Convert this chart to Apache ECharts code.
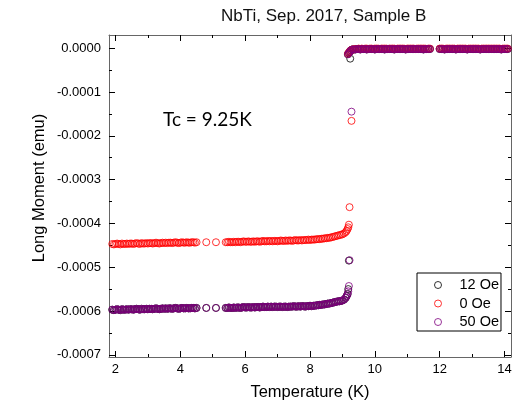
<!DOCTYPE html>
<html>
<head>
<meta charset="utf-8">
<script src="https://cdn.jsdelivr.net/npm/echarts@6/dist/echarts.min.js"></script>
<style>html,body{margin:0;padding:0;background:#fff;}#chart{width:529px;height:407px;}</style>
</head>
<body>
<div id="chart"></div>
<script>
// ---- data ----
const titleText = 'NbTi, Sep. 2017, Sample B';
const xAxisTitle = 'Temperature (K)';
const yAxisTitle = 'Long Moment (emu)';
const annotation = 'Tc = 9.25K';
const seriesNames = ['12 Oe', '0 Oe', '50 Oe'];
const xMajorTicks = [2, 4, 6, 8, 10, 12, 14];
const xMinorTicks = [3, 5, 7, 9, 11, 13];
const yMajorTicks = [0, -0.0001, -0.0002, -0.0003, -0.0004, -0.0005, -0.0006, -0.0007];
const yMinorTicks = [-0.00005, -0.00015, -0.00025, -0.00035, -0.00045, -0.00055, -0.00065];

// temperature (K), shared by the three series
const temps = [
  1.9,1.95,2,2.05,2.1,2.15,2.2,2.25,2.3,2.35, 2.4,2.45,2.5,2.55,2.6,2.65,2.7,2.75,2.8,2.85,
  2.9,2.95,3,3.05,3.1,3.15,3.2,3.25,3.3,3.35, 3.4,3.45,3.5,3.55,3.6,3.65,3.7,3.75,3.8,3.85,
  3.9,3.95,4,4.05,4.1,4.15,4.2,4.25,4.3,4.35, 4.4,4.45,4.5,
  4.8,5.1,
  5.4,5.45,5.5,5.55,5.6,5.65,5.7,5.75,5.8,5.85, 5.9,5.95,6,6.05,6.1,6.15,6.2,6.25,6.3,6.35,
  6.4,6.45,6.5,6.55,6.6,6.65,6.7,6.75,6.8,6.85, 6.9,6.95,7,7.05,7.1,7.15,7.2,7.25,7.3,7.35,
  7.4,7.45,7.5,7.55,7.6,7.65,7.7,7.75,7.8,7.85, 7.9,7.95,8,8.05,8.1,8.15,8.2,8.25,8.3,8.35,
  8.4,8.45,8.5,8.55,8.6,8.65,8.7,8.75,8.8,8.85, 8.9,8.95,9,
  9.05,9.1,9.13,9.16,9.18,9.2,9.22,9.24,9.28,9.17,9.2,9.23,9.26,9.3,
  9.35,9.4,9.45,9.5,9.55,9.6,9.65,9.7,9.75,9.8, 9.85,9.9,9.95,10,10.05,10.1,10.15,10.2,10.25,10.3,
  10.35,10.4,10.45,10.5,10.55,10.6,10.65,10.7,10.75,10.8, 10.85,10.9,10.95,11,11.05,11.1,11.15,11.2,11.25,11.3,
  11.35,11.4,11.45,11.5,11.55,11.6,11.65,11.7,
  12,12.05,12.1,12.15,12.2,12.25,12.3,12.35,12.4,12.45, 12.5,12.55,12.6,12.65,12.7,12.75,12.8,12.85,12.9,12.95,
  13,13.05,13.1,13.15,13.2,13.25,13.3,13.35,13.4,13.45, 13.5,13.55,13.6,13.65,13.7,13.75,13.8,13.85,13.9,13.95,
  14,14.05,14.1
];

// long moment (emu), 12 Oe
const m12 = [
  -5.97e-4,-5.98e-4,-5.97e-4,-5.96e-4,-5.97e-4,-5.98e-4,-5.96e-4,-5.97e-4,-5.97e-4,-5.96e-4,
  -5.97e-4,-5.96e-4,-5.96e-4,-5.97e-4,-5.96e-4,-5.95e-4,-5.96e-4,-5.97e-4,-5.95e-4,-5.96e-4,
  -5.96e-4,-5.95e-4,-5.96e-4,-5.95e-4,-5.95e-4,-5.96e-4,-5.95e-4,-5.94e-4,-5.95e-4,-5.96e-4,
  -5.95e-4,-5.94e-4,-5.95e-4,-5.94e-4,-5.95e-4,-5.94e-4,-5.94e-4,-5.95e-4,-5.94e-4,-5.93e-4,
  -5.94e-4,-5.95e-4,-5.94e-4,-5.93e-4,-5.94e-4,-5.94e-4,-5.93e-4,-5.94e-4,-5.94e-4,-5.93e-4,
  -5.93e-4,-5.94e-4,-5.93e-4,
  -5.93e-4,-5.93e-4,
  -5.93e-4,-5.93e-4,-5.92e-4,-5.93e-4,-5.93e-4,-5.92e-4,-5.93e-4,-5.92e-4,-5.92e-4,-5.93e-4,
  -5.92e-4,-5.91e-4,-5.92e-4,-5.92e-4,-5.91e-4,-5.92e-4,-5.92e-4,-5.91e-4,-5.92e-4,-5.91e-4,
  -5.91e-4,-5.92e-4,-5.91e-4,-5.90e-4,-5.91e-4,-5.91e-4,-5.90e-4,-5.91e-4,-5.90e-4,-5.91e-4,
  -5.90e-4,-5.90e-4,-5.91e-4,-5.90e-4,-5.90e-4,-5.91e-4,-5.90e-4,-5.90e-4,-5.91e-4,-5.90e-4,
  -5.90e-4,-5.90e-4,-5.89e-4,-5.90e-4,-5.90e-4,-5.89e-4,-5.90e-4,-5.89e-4,-5.89e-4,-5.90e-4,
  -5.89e-4,-5.89e-4,-5.88e-4,-5.89e-4,-5.88e-4,-5.88e-4,-5.87e-4,-5.87e-4,-5.86e-4,-5.86e-4,
  -5.85e-4,-5.85e-4,-5.84e-4,-5.83e-4,-5.83e-4,-5.82e-4,-5.81e-4,-5.80e-4,-5.79e-4,-5.78e-4,
  -5.78e-4,-5.77e-4,-5.76e-4,
  -5.74e-4,-5.70e-4,-5.66e-4,-5.61e-4,-5.50e-4,-4.85e-4,null,-2.4e-5,null,-1.4e-5,-1.1e-5,-8e-6,-5e-6,-3e-6,
  -3e-6,-3e-6,-2e-6,-2e-6,-3e-6,-2e-6,-2e-6,-2e-6,-3e-6,-2e-6,
  -2e-6,-2e-6,-2e-6,-3e-6,-2e-6,-2e-6,-2e-6,-2e-6,-2e-6,-3e-6,
  -2e-6,-2e-6,-2e-6,-2e-6,-2e-6,-3e-6,-2e-6,-2e-6,-2e-6,-2e-6,
  -2e-6,-2e-6,-3e-6,-2e-6,-2e-6,-2e-6,-2e-6,-2e-6,-2e-6,-2e-6,
  -2e-6,-2e-6,-2e-6,-3e-6,-2e-6,-2e-6,-2e-6,-2e-6,
  -2e-6,-2e-6,-2e-6,-3e-6,-2e-6,-2e-6,-2e-6,-2e-6,-2e-6,-2e-6,
  -3e-6,-2e-6,-2e-6,-2e-6,-2e-6,-2e-6,-2e-6,-3e-6,-2e-6,-2e-6,
  -2e-6,-2e-6,-2e-6,-2e-6,-2e-6,-3e-6,-2e-6,-2e-6,-2e-6,-2e-6,
  -2e-6,-2e-6,-2e-6,-2e-6,-2e-6,-2e-6,-2e-6,-2e-6,-3e-6,-2e-6,
  -2e-6,-2e-6,-2e-6
];

// long moment (emu), 0 Oe
const m0 = [
  -4.47e-4,-4.48e-4,-4.47e-4,-4.46e-4,-4.47e-4,-4.48e-4,-4.46e-4,-4.47e-4,-4.47e-4,-4.46e-4,
  -4.47e-4,-4.46e-4,-4.46e-4,-4.47e-4,-4.46e-4,-4.45e-4,-4.46e-4,-4.47e-4,-4.45e-4,-4.46e-4,
  -4.46e-4,-4.45e-4,-4.46e-4,-4.45e-4,-4.45e-4,-4.46e-4,-4.45e-4,-4.44e-4,-4.45e-4,-4.46e-4,
  -4.45e-4,-4.44e-4,-4.45e-4,-4.44e-4,-4.45e-4,-4.44e-4,-4.44e-4,-4.45e-4,-4.44e-4,-4.43e-4,
  -4.44e-4,-4.45e-4,-4.44e-4,-4.43e-4,-4.44e-4,-4.44e-4,-4.43e-4,-4.44e-4,-4.44e-4,-4.43e-4,
  -4.43e-4,-4.44e-4,-4.43e-4,
  -4.43e-4,-4.43e-4,
  -4.43e-4,-4.43e-4,-4.42e-4,-4.43e-4,-4.43e-4,-4.42e-4,-4.43e-4,-4.42e-4,-4.42e-4,-4.43e-4,
  -4.42e-4,-4.41e-4,-4.42e-4,-4.42e-4,-4.41e-4,-4.42e-4,-4.42e-4,-4.41e-4,-4.42e-4,-4.41e-4,
  -4.41e-4,-4.42e-4,-4.41e-4,-4.40e-4,-4.41e-4,-4.41e-4,-4.40e-4,-4.41e-4,-4.40e-4,-4.41e-4,
  -4.40e-4,-4.40e-4,-4.41e-4,-4.40e-4,-4.39e-4,-4.40e-4,-4.40e-4,-4.39e-4,-4.40e-4,-4.39e-4,
  -4.39e-4,-4.40e-4,-4.39e-4,-4.38e-4,-4.39e-4,-4.39e-4,-4.38e-4,-4.39e-4,-4.38e-4,-4.38e-4,
  -4.38e-4,-4.37e-4,-4.38e-4,-4.37e-4,-4.37e-4,-4.37e-4,-4.36e-4,-4.36e-4,-4.36e-4,-4.35e-4,
  -4.35e-4,-4.34e-4,-4.34e-4,-4.33e-4,-4.33e-4,-4.32e-4,-4.31e-4,-4.30e-4,-4.29e-4,-4.28e-4,
  -4.27e-4,-4.26e-4,-4.25e-4,
  -4.23e-4,-4.20e-4,-4.17e-4,-4.13e-4,-4.09e-4,-4.03e-4,-3.63e-4,null,-1.66e-4,-1.3e-5,-1.0e-5,-7e-6,-5e-6,-3e-6,
  -3e-6,-2e-6,-2e-6,-1e-6,-2e-6,-1e-6,-2e-6,-1e-6,-1e-6,-2e-6,
  -1e-6,-1e-6,-2e-6,-1e-6,-1e-6,-1e-6,-2e-6,-1e-6,-1e-6,-1e-6,
  -1e-6,-2e-6,-1e-6,-1e-6,-1e-6,-1e-6,-2e-6,-1e-6,-1e-6,-1e-6,
  -1e-6,-1e-6,-2e-6,-1e-6,-1e-6,-1e-6,-1e-6,-1e-6,-2e-6,-1e-6,
  -1e-6,-1e-6,-1e-6,-1e-6,-1e-6,-2e-6,-1e-6,-1e-6,
  -1e-6,-1e-6,-1e-6,-2e-6,-1e-6,-1e-6,-1e-6,-1e-6,-1e-6,-1e-6,
  -2e-6,-1e-6,-1e-6,-1e-6,-1e-6,-1e-6,-1e-6,-2e-6,-1e-6,-1e-6,
  -1e-6,-1e-6,-1e-6,-1e-6,-1e-6,-2e-6,-1e-6,-1e-6,-1e-6,-1e-6,
  -1e-6,-1e-6,-1e-6,-1e-6,-1e-6,-1e-6,-1e-6,-1e-6,-2e-6,-1e-6,
  -1e-6,-1e-6,-1e-6
];

// long moment (emu), 50 Oe
const m50 = [
  -5.97e-4,-5.98e-4,-5.97e-4,-5.96e-4,-5.97e-4,-5.98e-4,-5.96e-4,-5.97e-4,-5.97e-4,-5.96e-4,
  -5.97e-4,-5.96e-4,-5.96e-4,-5.97e-4,-5.96e-4,-5.95e-4,-5.96e-4,-5.97e-4,-5.95e-4,-5.96e-4,
  -5.96e-4,-5.95e-4,-5.96e-4,-5.95e-4,-5.95e-4,-5.96e-4,-5.95e-4,-5.94e-4,-5.95e-4,-5.96e-4,
  -5.95e-4,-5.94e-4,-5.95e-4,-5.94e-4,-5.95e-4,-5.94e-4,-5.94e-4,-5.95e-4,-5.94e-4,-5.93e-4,
  -5.94e-4,-5.95e-4,-5.94e-4,-5.93e-4,-5.94e-4,-5.94e-4,-5.93e-4,-5.94e-4,-5.94e-4,-5.93e-4,
  -5.93e-4,-5.94e-4,-5.93e-4,
  -5.93e-4,-5.93e-4,
  -5.93e-4,-5.93e-4,-5.92e-4,-5.93e-4,-5.93e-4,-5.92e-4,-5.93e-4,-5.92e-4,-5.92e-4,-5.93e-4,
  -5.92e-4,-5.91e-4,-5.92e-4,-5.92e-4,-5.91e-4,-5.92e-4,-5.92e-4,-5.91e-4,-5.92e-4,-5.91e-4,
  -5.91e-4,-5.92e-4,-5.91e-4,-5.90e-4,-5.91e-4,-5.91e-4,-5.90e-4,-5.91e-4,-5.90e-4,-5.91e-4,
  -5.90e-4,-5.90e-4,-5.91e-4,-5.90e-4,-5.90e-4,-5.91e-4,-5.90e-4,-5.90e-4,-5.91e-4,-5.90e-4,
  -5.90e-4,-5.90e-4,-5.89e-4,-5.90e-4,-5.90e-4,-5.89e-4,-5.90e-4,-5.89e-4,-5.89e-4,-5.90e-4,
  -5.89e-4,-5.89e-4,-5.88e-4,-5.89e-4,-5.88e-4,-5.88e-4,-5.87e-4,-5.87e-4,-5.86e-4,-5.86e-4,
  -5.85e-4,-5.85e-4,-5.84e-4,-5.83e-4,-5.83e-4,-5.82e-4,-5.81e-4,-5.80e-4,-5.79e-4,-5.78e-4,
  -5.78e-4,-5.77e-4,-5.76e-4,
  -5.74e-4,-5.70e-4,-5.66e-4,-5.62e-4,-5.55e-4,-5.43e-4,-4.84e-4,null,-1.45e-4,-1.4e-5,-1.1e-5,-8e-6,-5e-6,-3e-6,
  -3e-6,-3e-6,-2e-6,-2e-6,-3e-6,-2e-6,-2e-6,-2e-6,-3e-6,-2e-6,
  -2e-6,-2e-6,-2e-6,-3e-6,-2e-6,-2e-6,-2e-6,-2e-6,-2e-6,-3e-6,
  -2e-6,-2e-6,-2e-6,-2e-6,-2e-6,-3e-6,-2e-6,-2e-6,-2e-6,-2e-6,
  -2e-6,-2e-6,-3e-6,-2e-6,-2e-6,-2e-6,-2e-6,-2e-6,-2e-6,-2e-6,
  -2e-6,-2e-6,-2e-6,-3e-6,-2e-6,-2e-6,-2e-6,-2e-6,
  -2e-6,-2e-6,-2e-6,-3e-6,-2e-6,-2e-6,-2e-6,-2e-6,-2e-6,-2e-6,
  -3e-6,-2e-6,-2e-6,-2e-6,-2e-6,-2e-6,-2e-6,-3e-6,-2e-6,-2e-6,
  -2e-6,-2e-6,-2e-6,-2e-6,-2e-6,-3e-6,-2e-6,-2e-6,-2e-6,-2e-6,
  -2e-6,-2e-6,-2e-6,-2e-6,-2e-6,-2e-6,-2e-6,-2e-6,-3e-6,-2e-6,
  -2e-6,-2e-6,-2e-6
];

const seriesColors = ['#000000', '#ff0000', '#800080'];

// ---- chart ----
const FONT = '"Liberation Sans", Arial, sans-serif';
const X_MIN = 1.8, X_MAX = 14.2;
const Y_MIN = -0.000705, Y_MAX = 0.00003;

function points(vals) {
  const out = [];
  temps.forEach((t, i) => { const v = vals[i]; if (v !== null && v !== undefined) out.push([t, v]); });
  return out;
}

function xAxisDef(position, ticks, len, showLine, showLabel) {
  return {
    type: 'value', position: position, min: X_MIN, max: X_MAX,
    splitLine: { show: false },
    axisLine: { show: showLine, onZero: false, lineStyle: { color: '#666', width: 1 } },
    axisTick: { show: true, inside: true, length: len, customValues: ticks, lineStyle: { color: '#000', width: 1 } },
    axisLabel: { show: showLabel, customValues: ticks, color: '#000', fontSize: 13, fontFamily: FONT, margin: 6 }
  };
}
function yAxisDef(position, ticks, len, showLine, showLabel) {
  return {
    type: 'value', position: position, min: Y_MIN, max: Y_MAX,
    splitLine: { show: false },
    axisLine: { show: showLine, onZero: false, lineStyle: { color: '#666', width: 1 } },
    axisTick: { show: true, inside: true, length: len, customValues: ticks, lineStyle: { color: '#000', width: 1 } },
    axisLabel: { show: showLabel, customValues: ticks, color: '#000', fontSize: 13, fontFamily: FONT, margin: 8,
      formatter: v => (Math.abs(v) < 1e-12 ? 0 : v).toFixed(4) }
  };
}

const chart = echarts.init(document.getElementById('chart'), null, { renderer: 'canvas' });
chart.setOption({
  animation: false,
  backgroundColor: '#fff',
  textStyle: { fontFamily: FONT },
  title: {
    text: titleText, left: 221, top: 8, padding: 0,
    textStyle: { fontSize: 17, fontWeight: 'normal', color: '#111', fontFamily: FONT }
  },
  grid: { left: 109, right: 18, top: 35, bottom: 50, containLabel: false },
  legend: {
    data: seriesNames, orient: 'vertical', left: 417, top: 273,
    padding: [4, 2, 1, 17], itemGap: 2.5, itemWidth: 33, itemHeight: 7,
    borderColor: '#000', borderWidth: 1, backgroundColor: '#fff',
    itemStyle: { borderWidth: 1, color: 'rgba(255,255,255,0)' },
    textStyle: { fontSize: 14.5, color: '#000', fontFamily: FONT, lineHeight: 16 }
  },
  xAxis: [
    Object.assign(xAxisDef('bottom', xMajorTicks, 6, true, true), {
      name: xAxisTitle, nameLocation: 'middle', nameGap: 27,
      nameTextStyle: { fontSize: 16.5, color: '#000', fontFamily: FONT }
    }),
    xAxisDef('bottom', xMinorTicks, 3, false, false),
    xAxisDef('top', xMajorTicks, 6, true, false),
    xAxisDef('top', xMinorTicks, 3, false, false)
  ],
  yAxis: [
    yAxisDef('left', yMajorTicks, 6, true, true),
    yAxisDef('left', yMinorTicks, 3, false, false),
    yAxisDef('right', yMajorTicks, 6, true, false),
    yAxisDef('right', yMinorTicks, 3, false, false)
  ],
  graphic: [
    {
      type: 'text', x: 39, y: 188, rotation: Math.PI / 2,
      style: { text: yAxisTitle, font: '16.5px "Liberation Sans", Arial, sans-serif', fill: '#000', align: 'center', verticalAlign: 'middle' }
    },
    {
      type: 'text', left: 163, top: 110,
      style: { text: annotation, font: '19px Lato', fill: '#000' }
    }
  ],
  series: [m12, m0, m50].map((vals, k) => ({
    name: seriesNames[k], type: 'scatter', xAxisIndex: 0, yAxisIndex: 0,
    symbol: 'circle', symbolSize: 7,
    itemStyle: { color: 'rgba(255,255,255,0)', borderColor: seriesColors[k], borderWidth: 1 },
    emphasis: { disabled: true },
    data: points(vals)
  }))
});
</script>
</body>
</html>
